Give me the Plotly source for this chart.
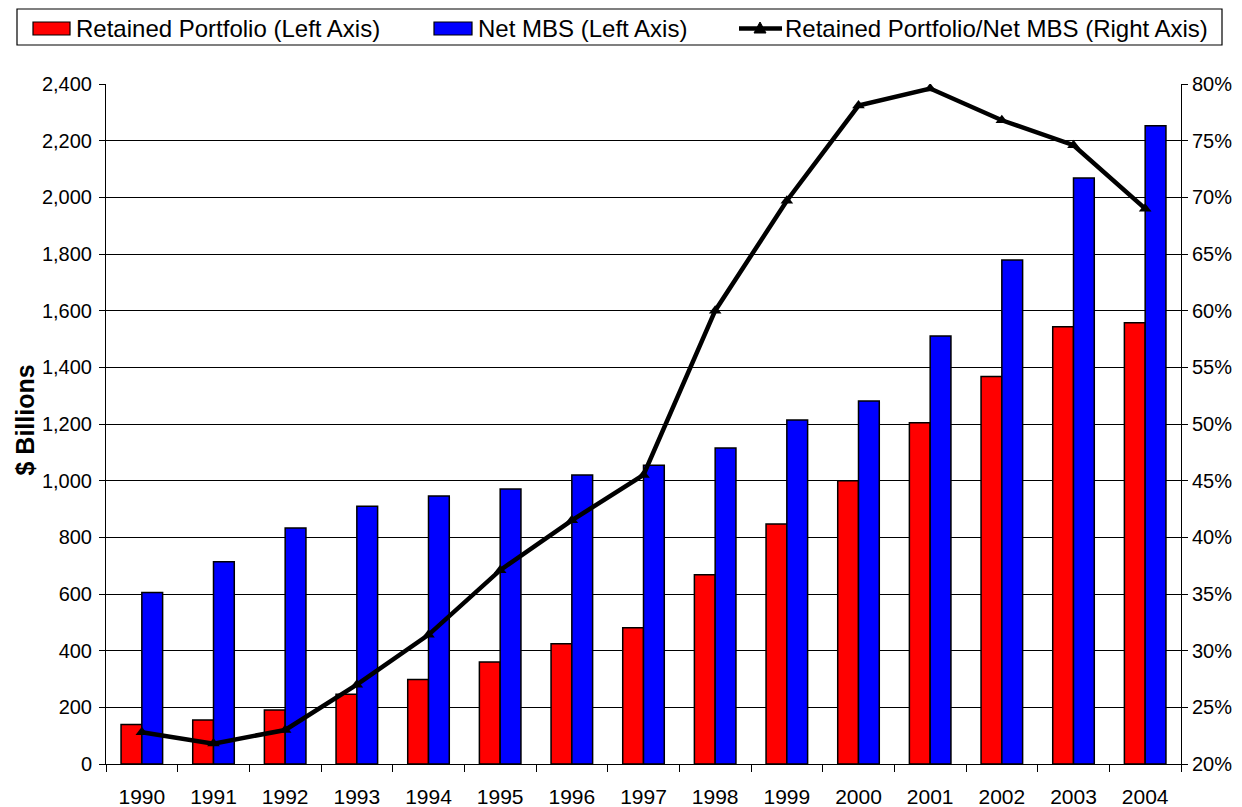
import plotly.graph_objects as go

# ---- data ----
years = [str(y) for y in range(1990, 2005)]
retained_portfolio = [139, 155, 191, 246, 298, 360, 424, 481, 668, 847, 1000, 1204, 1368, 1543, 1557]
net_mbs = [605, 714, 833, 910, 946, 971, 1020, 1054, 1115, 1214, 1281, 1511, 1779, 2068, 2253]
ratio_pct = [22.8, 21.8, 23.0, 27.0, 31.4, 37.1, 41.5, 45.5, 60.0, 69.7, 78.1, 79.6, 76.8, 74.6, 69.0]

left_ticks = list(range(0, 2401, 200))
right_ticks = list(range(20, 81, 5))
right_tick_labels = [f"{v}%" for v in right_ticks]

legend_names = ["Retained Portfolio (Left Axis)", "Net MBS (Left Axis)",
                "Retained Portfolio/Net MBS (Right Axis)"]

# ---- layout geometry (pixels, page coords; the page body adds an 8px offset) ----
OFF = 8
W, H = 1242 - OFF, 807 - OFF
L, R, T, B = 106 - OFF, 1181 - OFF, 84 - OFF, 764 - OFF
FONT = "Liberation Sans, Arial, sans-serif"


def px(x):
    return (x - OFF - L) / (R - L)


def py(y):
    return (B - (y - OFF)) / (B - T)


fig = go.Figure()
fig.add_trace(go.Bar(x=years, y=retained_portfolio, name=legend_names[0],
                     marker=dict(color="#FF0000", line=dict(color="black", width=1.5))))
fig.add_trace(go.Bar(x=years, y=net_mbs, name=legend_names[1],
                     marker=dict(color="#0000FF", line=dict(color="black", width=1.5))))
fig.add_trace(go.Scatter(x=years, y=ratio_pct, name=legend_names[2], yaxis="y2",
                         mode="lines+markers",
                         line=dict(color="black", width=4.5),
                         marker=dict(symbol="triangle-up", size=11, color="black")))

shapes = [
    # legend box
    dict(type="rect", xref="paper", yref="paper", x0=px(17), x1=px(1222), y0=py(45), y1=py(9),
         line=dict(color="black", width=1.2), fillcolor="white", layer="above"),
    dict(type="rect", xref="paper", yref="paper", x0=px(33), x1=px(70), y0=py(35), y1=py(22),
         line=dict(color="black", width=1.2), fillcolor="#FF0000", layer="above"),
    dict(type="rect", xref="paper", yref="paper", x0=px(434), x1=px(472), y0=py(35), y1=py(22),
         line=dict(color="black", width=1.2), fillcolor="#0000FF", layer="above"),
    dict(type="line", xref="paper", yref="paper", x0=px(739), x1=px(782), y0=py(28.5), y1=py(28.5),
         line=dict(color="black", width=4.5), layer="above"),
    dict(type="path", xref="paper", yref="paper",
         path=f"M {px(754)},{py(33)} L {px(766)},{py(33)} L {px(760)},{py(22)} Z",
         line=dict(color="black", width=1), fillcolor="black", layer="above"),
]

annotations = [
    dict(text=legend_names[0], xref="paper", yref="paper", x=px(74), y=py(28), xanchor="left",
         yanchor="middle", showarrow=False, font=dict(family=FONT, size=24, color="black")),
    dict(text=legend_names[1], xref="paper", yref="paper", x=px(476), y=py(28), xanchor="left",
         yanchor="middle", showarrow=False, font=dict(family=FONT, size=24, color="black")),
    dict(text=legend_names[2], xref="paper", yref="paper", x=px(783), y=py(28), xanchor="left",
         yanchor="middle", showarrow=False, font=dict(family=FONT, size=24, color="black")),
    dict(text="<b>$ Billions</b>", xref="paper", yref="paper", x=px(8.5), y=py(420),
         xanchor="left", yanchor="middle", textangle=-90, showarrow=False,
         font=dict(family=FONT, size=25, color="black")),
]

fig.update_layout(
    width=W, height=H,
    margin=dict(l=L, r=W - R, t=T, b=H - B, pad=0, autoexpand=False),
    paper_bgcolor="white", plot_bgcolor="white",
    barmode="group", bargap=0.42, bargroupgap=0,
    showlegend=False,
    font=dict(family=FONT, size=20, color="black"),
    xaxis=dict(type="category", range=[-0.5, len(years) - 0.5], tickson="boundaries",
               ticks="outside", ticklen=7,
               tickcolor="black", tickwidth=1, showline=True, linecolor="black", linewidth=1,
               showgrid=False, tickfont=dict(size=21, color="black"), ticklabelstandoff=14,
               automargin=False),
    yaxis=dict(range=[0, 2400], tickvals=left_ticks, tickformat=",", showgrid=True,
               gridcolor="black", gridwidth=1, showline=True, linecolor="black", linewidth=1,
               ticks="outside", ticklen=6, tickcolor="black", zeroline=False,
               tickfont=dict(size=20, color="black"), ticklabelstandoff=3, automargin=False),
    yaxis2=dict(range=[20, 80], tickvals=right_ticks, ticktext=right_tick_labels, overlaying="y",
                side="right", showgrid=False, showline=True, linecolor="black", linewidth=1,
                ticks="outside", ticklen=6, tickcolor="black", zeroline=False,
                tickfont=dict(size=20, color="black"), automargin=False),
    shapes=shapes,
    annotations=annotations,
)

fig.write_html("out.html")
